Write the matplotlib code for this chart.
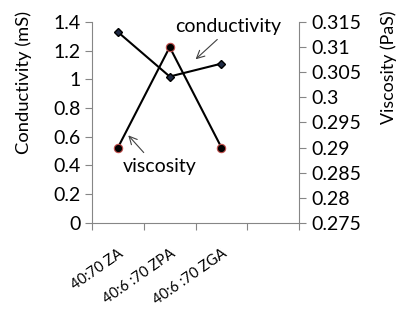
import matplotlib.pyplot as plt

# data
samples = ['40:70 ZA', '40:6 :70 ZPA', '40:6 :70 ZGA', '']
conductivity = [1.33, 1.02, 1.11]
viscosity = [0.29, 0.31, 0.29]

plt.rcParams['font.family'] = ['Lato', 'DejaVu Sans']
grey = '#868686'
fs = 14

fig = plt.figure(figsize=(4.02, 3.10), dpi=100)
ax = fig.add_axes([0.229, 0.281, 0.515, 0.648])
ax2 = ax.twinx()

x = list(range(len(conductivity)))
ax.plot(x, conductivity, color='black', lw=1.5, marker='D', ms=4,
        mfc='#1f2a44', mec='black', zorder=3)
ax2.plot(x, viscosity, color='black', lw=1.5, marker='o', ms=6,
         mfc='black', mec='#c0504d', mew=0.8, zorder=3)

ax.set_xlim(-0.5, len(samples) - 0.5)
ax.set_ylim(0, 1.4)
ax.set_yticks([0, 0.2, 0.4, 0.6, 0.8, 1, 1.2, 1.4])
ax.set_yticklabels(['0', '0.2', '0.4', '0.6', '0.8', '1', '1.2', '1.4'])
ax2.set_ylim(0.275, 0.315)
ax2.set_yticks([0.275, 0.28, 0.285, 0.29, 0.295, 0.3, 0.305, 0.31, 0.315])
ax2.set_yticklabels(['0.275', '0.28', '0.285', '0.29', '0.295', '0.3',
                     '0.305', '0.31', '0.315'])

# category boundaries as ticks, labels at centres
ax.set_xticks([i - 0.5 for i in range(len(samples) + 1)])
ax.set_xticklabels([])
ax.set_xticks(range(len(samples)), minor=True)
ax.set_xticklabels(samples, minor=True, rotation=35, ha='right',
                   rotation_mode='anchor', fontsize=10.5)
ax.tick_params(axis='x', which='minor', length=0, pad=17)

for a in (ax, ax2):
    a.spines['top'].set_visible(False)
    for s in ('left', 'right', 'bottom'):
        a.spines[s].set_color(grey)
    a.tick_params(which='major', color=grey, length=5, labelsize=fs)

ax.spines['right'].set_visible(False)
ax2.spines['left'].set_visible(False)
ax2.spines['bottom'].set_visible(False)

# axis titles sit high, like in the original
fig.text(24 / 402, 1 - 11 / 310, 'Conductivity (mS)', rotation=90,
         ha='center', va='top', fontsize=13.2)
fig.text(389 / 402, 1 - 11 / 310, 'Viscosity (PaS)', rotation=90,
         ha='center', va='top', fontsize=12.8)

ax.annotate('conductivity', xy=(1.5, 1.14), xytext=(2.12, 1.37),
            ha='center', va='center', fontsize=fs,
            arrowprops=dict(arrowstyle='->', color='#404040', lw=0.8,
                            relpos=(0.45, 0), shrinkA=2, shrinkB=0))
ax.annotate('viscosity', xy=(0.2, 0.61), xytext=(0.8, 0.39),
            ha='center', va='center', fontsize=fs,
            arrowprops=dict(arrowstyle='->', color='#404040', lw=0.8,
                            relpos=(0.36, 1), shrinkA=3, shrinkB=0))

fig.savefig('out.png', dpi=100)
